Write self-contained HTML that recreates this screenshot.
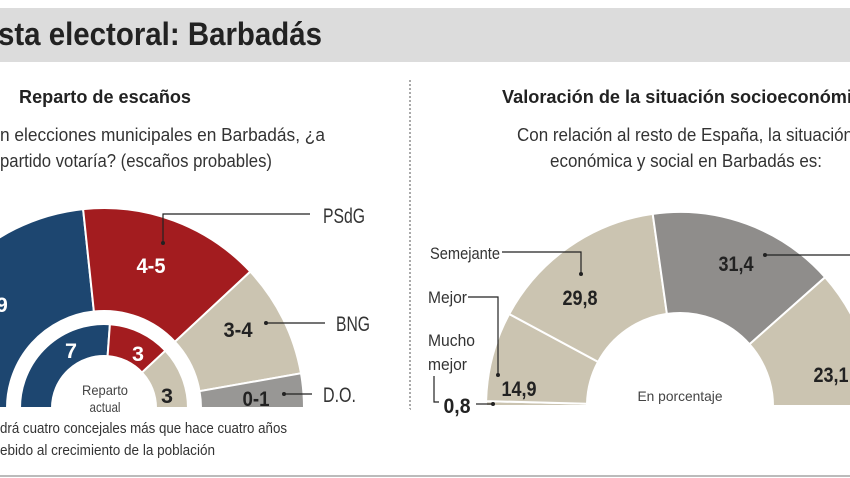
<!DOCTYPE html>
<html><head><meta charset="utf-8"><style>
html,body{margin:0;padding:0;background:#fff;}
svg{display:block;}
text{font-family:"Liberation Sans Narrow","Liberation Sans",sans-serif;}
</style></head><body>
<svg width="850" height="478" viewBox="0 0 850 478" xmlns="http://www.w3.org/2000/svg">
<rect x="0" y="0" width="850" height="478" fill="#fff"/>
<rect x="0" y="8" width="850" height="54" fill="#dcdcdc"/>
<text x="-2" y="45" font-size="32" font-weight="bold" fill="#222" textLength="324" lengthAdjust="spacingAndGlyphs">sta electoral: Barbadás</text>
<line x1="410" y1="80" x2="410" y2="412" stroke="#555" stroke-width="1" stroke-dasharray="2,2"/>
<line x1="0" y1="476" x2="850" y2="476" stroke="#bbb" stroke-width="2"/>

<text x="105" y="103" font-size="18" font-weight="bold" fill="#222" text-anchor="middle" textLength="172" lengthAdjust="spacingAndGlyphs">Reparto de escaños</text>
<text x="0" y="141" font-size="18" fill="#333" textLength="325" lengthAdjust="spacingAndGlyphs">n elecciones municipales en Barbadás, ¿a</text>
<text x="0" y="167" font-size="18" fill="#333" textLength="272" lengthAdjust="spacingAndGlyphs">partido votaría? (escaños probables)</text>

<text x="502" y="103" font-size="18" font-weight="bold" fill="#222" textLength="350" lengthAdjust="spacingAndGlyphs">Valoración de la situación socioeconómi</text>
<text x="517" y="141" font-size="18" fill="#333" textLength="336" lengthAdjust="spacingAndGlyphs">Con relación al resto de España, la situación</text>
<text x="550" y="167" font-size="18" fill="#333" textLength="272" lengthAdjust="spacingAndGlyphs">económica y social en Barbadás es:</text>

<g stroke="#fff" stroke-width="2">
<path d="M-96,408 A200,200 0 0 1 83.1,209.1 L93.9,311.5 A97,97 0 0 0 7,408 Z" fill="#1d4670"/>
<path d="M83.1,209.1 A200,200 0 0 1 250.3,271.6 L174.9,341.8 A97,97 0 0 0 93.9,311.5 Z" fill="#a31c1f"/>
<path d="M250.3,271.6 A200,200 0 0 1 301,373.3 L199.5,391.2 A97,97 0 0 0 174.9,341.8 Z" fill="#cbc4b1"/>
<path d="M301,373.3 A200,200 0 0 1 304,408 L201,408 A97,97 0 0 0 199.5,391.2 Z" fill="#989795"/>
<path d="M20,408 A84,84 0 0 1 109.9,324.2 L107.6,356.1 A52,52 0 0 0 52,408 Z" fill="#1d4670"/>
<path d="M109.9,324.2 A84,84 0 0 1 165.4,350.7 L142,372.5 A52,52 0 0 0 107.6,356.1 Z" fill="#a31c1f"/>
<path d="M165.4,350.7 A84,84 0 0 1 188,408 L156,408 A52,52 0 0 0 142,372.5 Z" fill="#cbc4b1"/>
</g>
<rect x="0" y="409" width="410" height="8" fill="#fff"/>
<g font-weight="bold" font-size="21" text-anchor="middle" lengthAdjust="spacingAndGlyphs">
<text x="2" y="312" fill="#fff">9</text>
<text x="151" y="273" fill="#fff" textLength="29" lengthAdjust="spacingAndGlyphs">4-5</text>
<text x="71" y="358" fill="#fff" textLength="12" lengthAdjust="spacingAndGlyphs">7</text>
<text x="138" y="361" fill="#fff" textLength="12" lengthAdjust="spacingAndGlyphs">3</text>
<text x="167" y="403" fill="#222" textLength="12" lengthAdjust="spacingAndGlyphs">3</text>
<text x="238" y="337" fill="#222" textLength="29" lengthAdjust="spacingAndGlyphs">3-4</text>
<text x="256" y="406" fill="#222" textLength="27" lengthAdjust="spacingAndGlyphs">0-1</text>
</g>
<text x="105" y="395" font-size="14" fill="#444" text-anchor="middle" textLength="46" lengthAdjust="spacingAndGlyphs">Reparto</text>
<text x="105" y="412" font-size="14" fill="#444" text-anchor="middle" textLength="31" lengthAdjust="spacingAndGlyphs">actual</text>
<g stroke="#222" stroke-width="1.2" fill="none">
<polyline points="310,214 163,214 163,242"/>
<line x1="267" y1="323" x2="325" y2="323"/>
<line x1="285" y1="394" x2="312" y2="394"/>
</g>
<g fill="#222"><circle cx="163" cy="243" r="2"/><circle cx="266" cy="323" r="2"/><circle cx="284" cy="394" r="2"/></g>
<g font-size="21" fill="#333">
<text x="323" y="223" textLength="42" lengthAdjust="spacingAndGlyphs">PSdG</text>
<text x="336" y="331" textLength="34" lengthAdjust="spacingAndGlyphs">BNG</text>
<text x="323" y="402" textLength="33" lengthAdjust="spacingAndGlyphs">D.O.</text>
</g>
<text x="0" y="433" font-size="14.5" fill="#333" textLength="287" lengthAdjust="spacingAndGlyphs">drá cuatro concejales más que hace cuatro años</text>
<text x="0" y="455" font-size="14.5" fill="#333" textLength="215" lengthAdjust="spacingAndGlyphs">ebido al crecimiento de la población</text>

<g stroke="#fff" stroke-width="2">
<path d="M486,406 A194,194 0 0 1 486.1,401.1 L587,403.7 A93,93 0 0 0 587,406 Z" fill="#cbc4b1"/>
<path d="M486.1,401.1 A194,194 0 0 1 509.2,314 L598.1,361.9 A93,93 0 0 0 587,403.7 Z" fill="#cbc4b1"/>
<path d="M509.2,314 A194,194 0 0 1 652.7,213.9 L666.9,313.9 A93,93 0 0 0 598.1,361.9 Z" fill="#cbc4b1"/>
<path d="M652.7,213.9 A194,194 0 0 1 825.1,277.2 L749.5,344.3 A93,93 0 0 0 666.9,313.9 Z" fill="#8f8d8b"/>
<path d="M825.1,277.2 A194,194 0 0 1 874,406 L773,406 A93,93 0 0 0 749.5,344.3 Z" fill="#cbc4b1"/>
</g>
<g font-weight="bold" font-size="21" fill="#222" text-anchor="middle">
<text x="580" y="305" textLength="35" lengthAdjust="spacingAndGlyphs">29,8</text>
<text x="736" y="271" textLength="35" lengthAdjust="spacingAndGlyphs">31,4</text>
<text x="831" y="382" textLength="35" lengthAdjust="spacingAndGlyphs">23,1</text>
<text x="519" y="396" textLength="35" lengthAdjust="spacingAndGlyphs">14,9</text>
<text x="457" y="413" textLength="27" lengthAdjust="spacingAndGlyphs">0,8</text>
</g>
<text x="680" y="401" font-size="14" fill="#444" text-anchor="middle" textLength="85" lengthAdjust="spacingAndGlyphs">En porcentaje</text>
<g font-size="17" fill="#333">
<text x="430" y="259" textLength="70" lengthAdjust="spacingAndGlyphs">Semejante</text>
<text x="428" y="303" textLength="39" lengthAdjust="spacingAndGlyphs">Mejor</text>
<text x="428" y="346" textLength="47" lengthAdjust="spacingAndGlyphs">Mucho</text>
<text x="428" y="370" textLength="39" lengthAdjust="spacingAndGlyphs">mejor</text>
</g>
<g stroke="#222" stroke-width="1.2" fill="none">
<polyline points="502,252 581,252 581,273"/>
<polyline points="468,297 498,297 498,374"/>
<polyline points="434,376 434,402 439,402"/>
<line x1="476" y1="404" x2="492" y2="404"/>
<line x1="765" y1="255" x2="850" y2="255"/>
</g>
<g fill="#222"><circle cx="581" cy="274" r="2"/><circle cx="498" cy="375" r="2"/><circle cx="493" cy="404" r="2"/><circle cx="765" cy="255" r="2"/></g>
</svg>
</body></html>
